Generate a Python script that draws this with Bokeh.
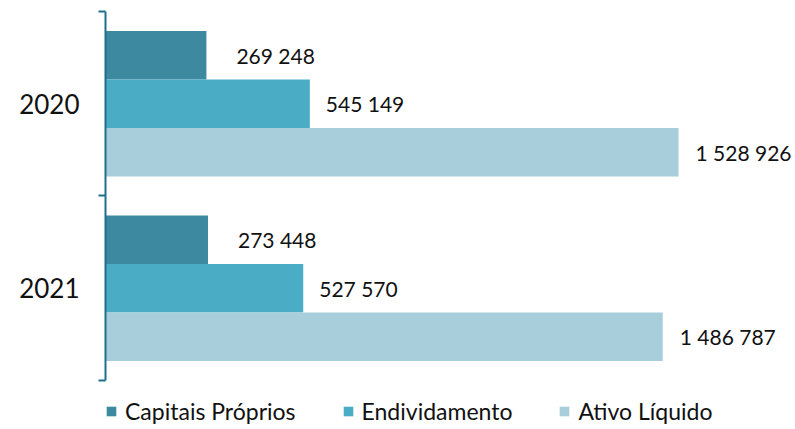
from bokeh.plotting import figure
from bokeh.models import Range1d, FixedTicker, Legend, LegendItem, ColumnDataSource
from bokeh.embed import file_html
from bokeh.resources import INLINE
from bokeh.core.properties import value

years = ["2020", "2021"]
series = ["Capitais Próprios", "Endividamento", "Ativo Líquido"]
capitais = [269248, 273448]
endividamento = [545149, 527570]
ativo = [1528926, 1486787]
colors = ["#3D8AA0", "#4BACC6", "#A8CEDC"]
label_offsets = [30, 16, 17]

FONT = "Lato"
values = [capitais, endividamento, ativo]
n = len(years)
bar_h = 0.263

p = figure(width=795, height=425, output_backend="svg", toolbar_location=None,
           x_range=Range1d(0, 1841000), y_range=Range1d(-0.244, n),
           min_border_left=105, min_border_right=0, min_border_top=11,
           min_border_bottom=0)
p.outline_line_color = None
p.xgrid.visible = False
p.ygrid.visible = False
p.xaxis.visible = False

def fmt(v):
    return f"{v:,}".replace(",", " ")

items = []
for j, (name, vals, col) in enumerate(zip(series, values, colors)):
    ys = [n - i - 0.5 + (1 - j) * bar_h for i in range(n)]
    src = ColumnDataSource(dict(y=ys, v=vals, lab=[fmt(v) for v in vals]))
    r = p.hbar(y="y", left=0, right="v", height=bar_h, source=src,
               fill_color=col, line_color=None)
    p.text(x="v", y="y", text="lab", source=src, x_offset=label_offsets[j],
           text_baseline="middle", text_align="left", text_color="#111111",
           text_font=value(FONT), text_font_size="21px")
    items.append(LegendItem(label=name, renderers=[r]))

ax = p.yaxis[0]
ax.bounds = (0, n)
ax.ticker = FixedTicker(ticks=[n - i - 0.5 for i in range(n)],
                        minor_ticks=[float(k) for k in range(n + 1)])
ax.major_label_overrides = {n - i - 0.5: y for i, y in enumerate(years)}
ax.axis_line_color = "#1F6E8C"
ax.axis_line_width = 2
ax.major_tick_line_color = None
ax.minor_tick_line_color = "#1F6E8C"
ax.minor_tick_line_width = 2
ax.minor_tick_out = 7
ax.minor_tick_in = 0
ax.major_label_text_font = FONT
ax.major_label_text_font_size = "26px"
ax.major_label_text_color = "#111111"
ax.major_label_standoff = 19

legend = Legend(items=items, orientation="horizontal", location=(0, 0),
                border_line_color=None, background_fill_alpha=0,
                spacing=46, glyph_width=12, glyph_height=12, label_standoff=8,
                label_text_font=FONT, label_text_font_size="23px",
                label_text_color="#111111", padding=0, margin=0)
p.add_layout(legend, "center")

open("out.html", "w").write(file_html(p, INLINE))
